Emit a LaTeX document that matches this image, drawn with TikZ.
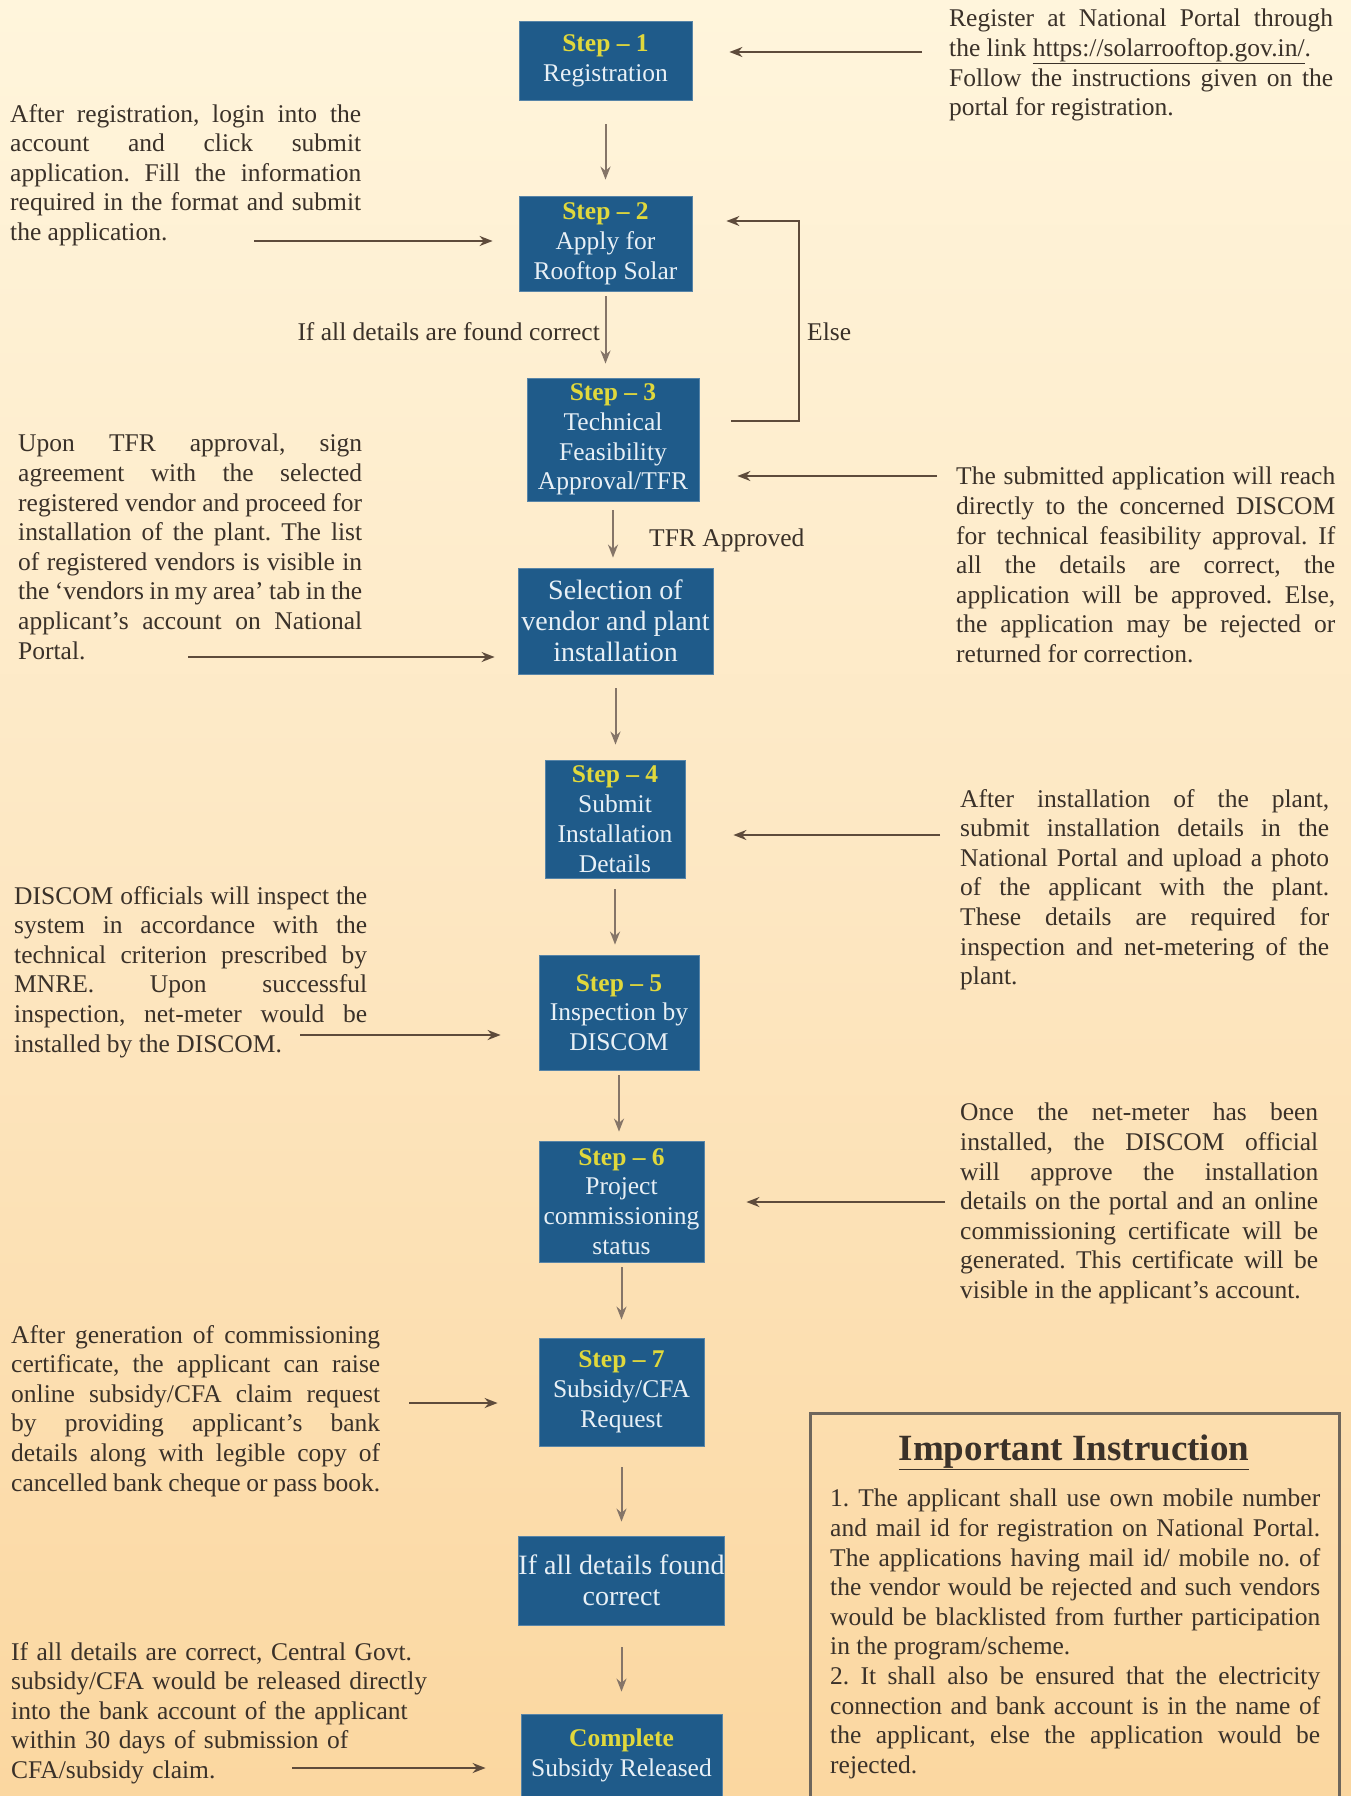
\documentclass[tikz,border=0pt]{standalone}
\usepackage{fontspec}
\setmainfont{Liberation Serif}
\usetikzlibrary{arrows.meta}
\definecolor{bgtop}{HTML}{FFF5DC}
\definecolor{bgmid}{HTML}{FDE7C2}
\definecolor{bgbot}{HTML}{FBD7A0}
\definecolor{boxblue}{HTML}{1F5B8A}
\definecolor{boxtext}{HTML}{E8F0F6}
\definecolor{stepyel}{HTML}{E0D83C}
\definecolor{txt}{HTML}{3A3129}
\definecolor{arrg}{HTML}{857568}
\definecolor{arrd}{HTML}{5E4B3B}
\definecolor{framec}{HTML}{6E665C}
\frenchspacing
\begin{document}
\begin{tikzpicture}[x=1pt,y=-1pt,
  stepbox/.style={rectangle, fill=boxblue, draw=boxblue!75!white, line width=0.8pt, text=boxtext, align=center, inner sep=0pt, font=\fontsize{25.5}{29.8}\selectfont},
  bigbox/.style={stepbox, font=\fontsize{28}{31}\selectfont},
  desc/.style={anchor=north west, inner sep=0pt, text=txt, align=justify, font=\fontsize{25.5}{29.6}\selectfont},
  lbl/.style={inner sep=0pt, text=txt, font=\fontsize{25.5}{29.6}\selectfont},
  varr/.style={-{Stealth[length=13pt,width=10pt]}, draw=arrg, line width=2pt},
  harr/.style={-{Stealth[length=13pt,width=10pt]}, draw=arrd, line width=2pt},
  elsearr/.style={-{Stealth[length=13pt,width=10pt]}, draw=arrd, line width=1.5pt},
]
\useasboundingbox (0,0) rectangle (1351,1796);
\fill[top color=bgtop, bottom color=bgbot, middle color=bgmid] (0,0) rectangle (1351,1796);

% step boxes
\node[stepbox, minimum width=173pt, minimum height=79pt] (s1) at (605.5,60.5)
  {{\bfseries\color{stepyel}Step – 1}\\Registration};
\node[stepbox, minimum width=173pt, minimum height=95pt] (s2) at (605.5,243.5)
  {{\bfseries\color{stepyel}Step – 2}\\Apply for\\Rooftop Solar};
\node[stepbox, minimum width=172pt, minimum height=123pt] (s3) at (613,439.5)
  {{\bfseries\color{stepyel}Step – 3}\\Technical\\Feasibility\\Approval/TFR};
\node[bigbox, minimum width=195pt, minimum height=106pt] (sel) at (615.5,621)
  {Selection of\\vendor and plant\\installation};
\node[stepbox, minimum width=140pt, minimum height=118pt] (s4) at (615,819)
  {{\bfseries\color{stepyel}Step – 4}\\Submit\\Installation\\Details};
\node[stepbox, minimum width=160pt, minimum height=115pt] (s5) at (619,1012.5)
  {{\bfseries\color{stepyel}Step – 5}\\Inspection by\\DISCOM};
\node[stepbox, minimum width=165pt, minimum height=121pt] (s6) at (621.5,1201.5)
  {{\bfseries\color{stepyel}Step – 6}\\Project\\commissioning\\status};
\node[stepbox, minimum width=165pt, minimum height=108pt] (s7) at (621.5,1392)
  {{\bfseries\color{stepyel}Step – 7}\\Subsidy/CFA\\Request};
\node[bigbox, minimum width=201pt, minimum height=89pt] (ifall) at (621.5,1580.5)
  {If all details found\\correct};
\node[stepbox, minimum width=201pt, minimum height=82pt] (comp) at (621.5,1755)
  {{\bfseries\color{stepyel}Complete}\\Subsidy Released};

% descriptions
\node[desc, text width=384pt] (rt1) at (949,9)
  {Register at National Portal through\linebreak the link \underline{https://solarrooftop.gov.in/}.\\Follow the instructions given on the\linebreak portal for registration.};
\node[desc, text width=351pt] (lt1) at (10,104)
  {After registration, login into the\linebreak account and click submit\linebreak application. Fill the information\linebreak required in the format and submit\linebreak the application.};
\node[desc, text width=344pt] (lt2) at (18,434)
  {Upon TFR approval, sign\linebreak agreement with the selected\linebreak registered vendor and proceed for\linebreak installation of the plant. The list\linebreak of registered vendors is visible in\linebreak the ‘vendors in my area’ tab in the\linebreak applicant’s account on National\linebreak Portal.};
\node[desc, text width=379pt] (rt2) at (956,467)
  {The submitted application will reach\linebreak directly to the concerned DISCOM\linebreak for technical feasibility approval. If\linebreak all the details are correct, the\linebreak application will be approved. Else,\linebreak the application may be rejected or\linebreak returned for correction.};
\node[desc, text width=369pt] (rt3) at (960,789)
  {After installation of the plant,\linebreak submit installation details in the\linebreak National Portal and upload a photo\linebreak of the applicant with the plant.\linebreak These details are required for\linebreak inspection and net-metering of the\linebreak plant.};
\node[desc, text width=353pt] (lt3) at (14,886)
  {DISCOM officials will inspect the\linebreak system in accordance with the\linebreak technical criterion prescribed by\linebreak MNRE. Upon successful\linebreak inspection, net-meter would be\linebreak installed by the DISCOM.};
\node[desc, text width=358pt] (rt4) at (960,1103)
  {Once the net-meter has been\linebreak installed, the DISCOM official\linebreak will approve the installation\linebreak details on the portal and an online\linebreak commissioning certificate will be\linebreak generated. This certificate will be\linebreak visible in the applicant’s account.};
\node[desc, text width=369pt] (lt4) at (11,1325)
  {After generation of commissioning\linebreak certificate, the applicant can raise\linebreak online subsidy/CFA claim request\linebreak by providing applicant’s bank\linebreak details along with legible copy of\linebreak cancelled bank cheque or pass book.};
\node[desc, align=left, text width=430pt] (lt5) at (11,1642)
  {If all details are correct, Central Govt.\\subsidy/CFA would be released directly\\into the bank account of the applicant\\within 30 days of submission of\\CFA/subsidy claim.};

% labels
\node[lbl, anchor=base east] (lab1) at (600,340) {If all details are found correct};
\node[lbl, anchor=base west] (lab2) at (807,340) {Else};
\node[lbl, anchor=base west] (lab3) at (649,546) {TFR Approved};

% important box
\node[draw=framec, line width=3pt, minimum width=529pt, minimum height=386pt, anchor=north west, inner sep=0pt] (impbox) at (809,1412) {};
\node[anchor=base, inner sep=0pt, text=txt, font=\fontsize{37}{40}\selectfont\bfseries] (title) at (1074,1460) {\underline{Important Instruction}};
\node[desc, text width=490pt] (imp) at (830,1489)
  {1. The applicant shall use own mobile number\linebreak and mail id for registration on National Portal.\linebreak The applications having mail id/ mobile no. of\linebreak the vendor would be rejected and such vendors\linebreak would be blacklisted from further participation\linebreak in the program/scheme.\\2. It shall also be ensured that the electricity\linebreak connection and bank account is in the name of\linebreak the applicant, else the application would be\linebreak rejected.};

% vertical arrows
\draw[varr, shorten <=24pt, shorten >=16pt] (s1.south) -- (s1.south |- s2.north);
\draw[varr, shorten <=5pt, shorten >=14pt] (s2.south) -- (s2.south |- s3.north);
\draw[varr, shorten <=9pt, shorten >=10pt] (s3.south) -- (s3.south |- sel.north);
\draw[varr, shorten <=14pt, shorten >=15pt] (sel.south) -- (sel.south |- s4.north);
\draw[varr, shorten <=11pt, shorten >=10pt] (s4.south) -- (s4.south |- s5.north);
\draw[varr, shorten <=5pt, shorten >=9pt] (s5.south) -- (s5.south |- s6.north);
\draw[varr, shorten <=5pt, shorten >=18pt] (s6.south) -- (s6.south |- s7.north);
\draw[varr, shorten <=21pt, shorten >=14pt] (s7.south) -- (s7.south |- ifall.north);
\draw[varr, shorten <=22pt, shorten >=22pt] (ifall.south) -- (ifall.south |- comp.north);

% horizontal arrows
\coordinate (a1) at (922,52);
\coordinate (a2) at (254,241);
\coordinate (a3) at (937,476);
\coordinate (a4) at (188,657);
\coordinate (a5) at (940,835);
\coordinate (a6) at (300,1035);
\coordinate (a7) at (945,1202);
\coordinate (a8) at (409,1403);
\coordinate (a9) at (292,1768);
\draw[harr, shorten >=37pt] (a1) -- (a1 -| s1.east);
\draw[harr, shorten >=26pt] (a2) -- (a2 -| s2.west);
\draw[harr, shorten >=38pt] (a3) -- (a3 -| s3.east);
\draw[harr, shorten >=23pt] (a4) -- (a4 -| sel.west);
\draw[harr, shorten >=48pt] (a5) -- (a5 -| s4.east);
\draw[harr, shorten >=38pt] (a6) -- (a6 -| s5.west);
\draw[harr, shorten >=42pt] (a7) -- (a7 -| s6.east);
\draw[harr, shorten >=41pt] (a8) -- (a8 -| s7.west);
\draw[harr, shorten >=35pt] (a9) -- (a9 -| comp.west);

% else loop
\coordinate (el1) at (731,421);
\coordinate (el2) at (799,221);
\draw[elsearr, shorten >=34pt] (el1) -| (el2) -- (el2 -| s2.east);
\end{tikzpicture}
\end{document}
